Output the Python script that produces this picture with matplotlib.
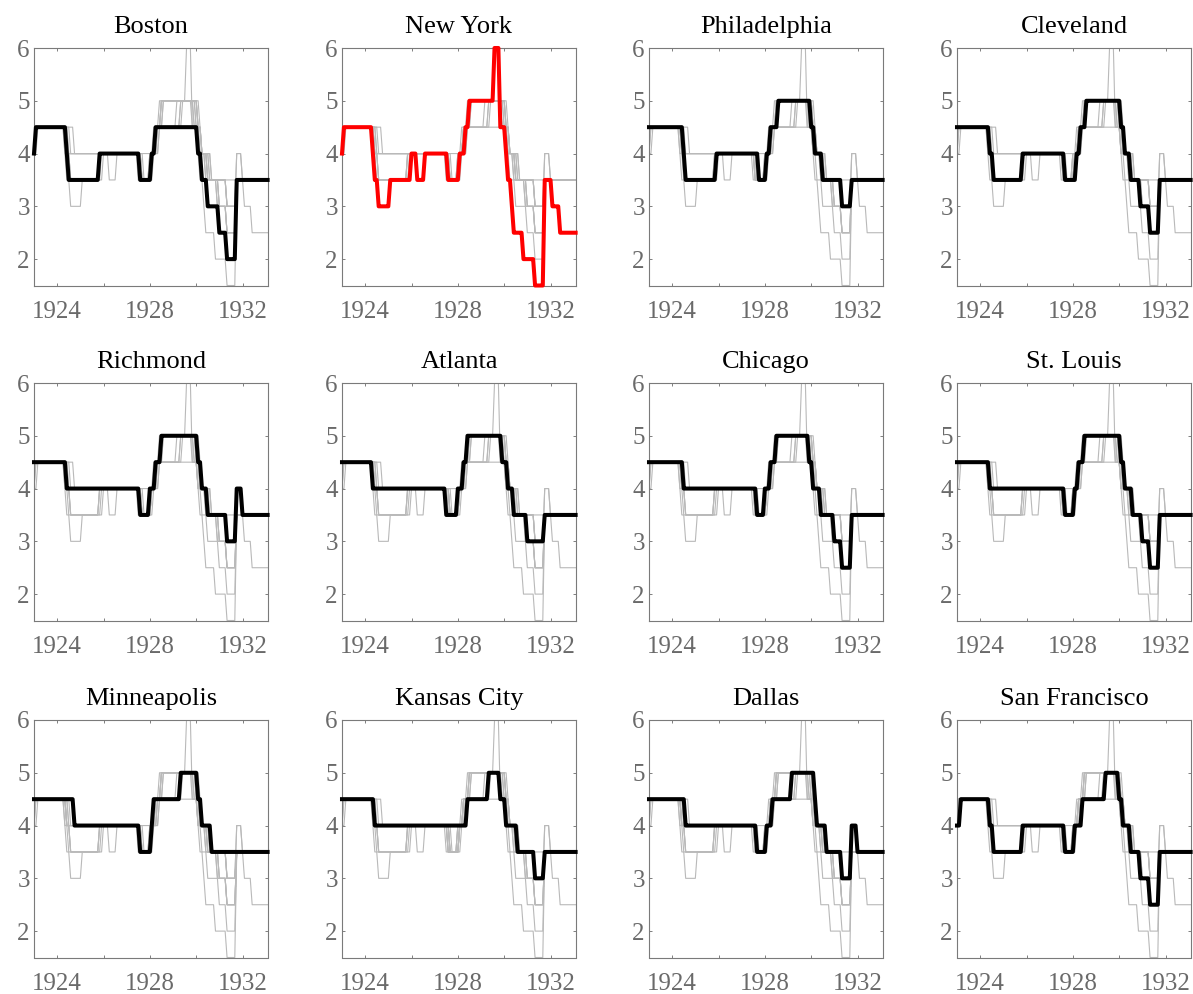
import numpy as np
import matplotlib.pyplot as plt

plt.rcParams['font.family'] = ['Liberation Serif', 'DejaVu Serif']

# discount rates by Federal Reserve district, monthly from Jan 1923
# stored as (rate in %, number of months held)
boston = [(4.0, 1), (4.5, 16), (4.0, 1), (3.5, 16), (4.0, 21), (3.5, 6), (4.0, 2),
          (4.5, 22), (4.0, 2), (3.5, 3), (3.0, 6), (2.5, 4), (2.0, 5), (3.5, 17)]
new_york = [(4.0, 1), (4.5, 15), (4.0, 1), (3.5, 2), (3.0, 6), (3.5, 11), (4.0, 3),
            (3.5, 4), (4.0, 12), (3.5, 6), (4.0, 3), (4.5, 2), (5.0, 13), (6.0, 3),
            (4.5, 3), (4.0, 1), (3.5, 2), (3.0, 1), (2.5, 5), (2.0, 6), (1.5, 5),
            (3.5, 4), (3.0, 4), (2.5, 9)]
philadelphia = [(4.5, 18), (4.0, 1), (3.5, 16), (4.0, 22), (3.5, 4), (4.0, 2), (4.5, 4),
                (5.0, 17), (4.5, 2), (4.0, 4), (3.5, 10), (3.0, 5), (3.5, 17)]
cleveland = [(4.5, 17), (4.0, 2), (3.5, 15), (4.0, 22), (3.5, 6), (4.0, 2), (4.5, 3),
             (5.0, 18), (4.5, 2), (4.0, 3), (3.5, 5), (3.0, 5), (2.5, 5), (3.5, 17)]
richmond = [(4.5, 17), (4.0, 38), (3.5, 5), (4.0, 3), (4.5, 3), (5.0, 19), (4.5, 2),
            (4.0, 3), (3.5, 10), (3.0, 5), (4.0, 3), (3.5, 14)]
atlanta = [(4.5, 16), (4.0, 38), (3.5, 6), (4.0, 3), (4.5, 2), (5.0, 18), (4.5, 3),
           (4.0, 3), (3.5, 7), (3.0, 9), (3.5, 17)]
chicago = [(4.5, 18), (4.0, 38), (3.5, 4), (4.0, 3), (4.5, 3), (5.0, 17), (4.5, 2),
           (4.0, 4), (3.5, 7), (3.0, 4), (2.5, 5), (3.5, 17)]
st_louis = [(4.5, 17), (4.0, 39), (3.5, 5), (4.0, 2), (4.5, 3), (5.0, 19), (4.5, 2),
            (4.0, 4), (3.5, 5), (3.0, 4), (2.5, 5), (3.5, 17)]
minneapolis = [(4.5, 21), (4.0, 34), (3.5, 6), (4.0, 1), (4.5, 14), (5.0, 9), (4.5, 2),
               (4.0, 5), (3.5, 30)]
kansas_city = [(4.5, 17), (4.0, 48), (4.5, 11), (5.0, 6), (4.5, 3), (4.0, 6), (3.5, 9),
               (3.0, 5), (3.5, 17)]
dallas = [(4.5, 19), (4.0, 37), (3.5, 5), (4.0, 3), (4.5, 10), (5.0, 12), (4.5, 1),
          (4.0, 5), (3.5, 8), (3.0, 5), (4.0, 3), (3.5, 14)]
san_francisco = [(4.0, 2), (4.5, 15), (4.0, 2), (3.5, 15), (4.0, 22), (3.5, 5), (4.0, 4),
                 (4.5, 12), (5.0, 7), (4.5, 2), (4.0, 4), (3.5, 5), (3.0, 5), (2.5, 5),
                 (3.5, 17)]

districts = ['Boston', 'New York', 'Philadelphia', 'Cleveland',
             'Richmond', 'Atlanta', 'Chicago', 'St. Louis',
             'Minneapolis', 'Kansas City', 'Dallas', 'San Francisco']
rate_runs = [boston, new_york, philadelphia, cleveland, richmond, atlanta,
             chicago, st_louis, minneapolis, kansas_city, dallas, san_francisco]


def monthly(runs):
    return np.repeat([r for r, n in runs], [n for r, n in runs])


rates = [monthly(r) for r in rate_runs]
dates = 1923 + np.arange(len(rates[0])) / 12

W, H = 1193, 994
fig = plt.figure(figsize=(W / 100, H / 100), dpi=100)

col_left = [34, 342, 649, 957]
row_top = [48, 383, 720]
aw, ah = 234, 237.5

for i, name in enumerate(districts):
    r, c = divmod(i, 4)
    ax = fig.add_axes([col_left[c] / W, 1 - (row_top[r] + ah) / H, aw / W, ah / H])

    # every district in light grey, the one named in the title on top
    for s in rates:
        ax.plot(dates, s, color='#b9b9b9', lw=0.8, zorder=2)
    color = 'red' if name == 'New York' else 'black'
    ax.plot(dates, rates[i], color=color, lw=2.9, zorder=3, clip_on=False)

    ax.set_xlim(1923, 1933.1)
    ax.set_ylim(1.5, 6)
    ax.set_xticks([1924, 1926, 1928, 1930, 1932])
    ax.set_xticklabels(['1924', '', '1928', '', '1932'])
    ax.set_yticks([2, 3, 4, 5, 6])
    ax.tick_params(direction='in', top=True, right=True, length=2.5, width=0.6,
                   colors='#6a6a6a', labelsize=18)
    ax.tick_params(axis='x', pad=11)
    ax.tick_params(axis='y', pad=3)
    for sp in ax.spines.values():
        sp.set_color('#7a7a7a')
        sp.set_linewidth(0.8)
    ax.set_title(name, fontsize=19, pad=11, color='black')

fig.savefig('out.png', dpi=100)
